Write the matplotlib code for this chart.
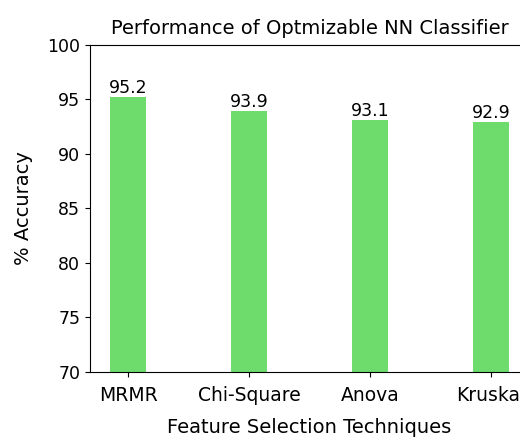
import matplotlib.pyplot as plt

techniques = ["MRMR", "Chi-Square", "Anova", "Kruskal"]
accuracy = [95.2, 93.9, 93.1, 92.9]

fig = plt.figure(figsize=(5.2, 4.37), dpi=100)
# original figure was wider; the right side is cut off
ax = fig.add_axes([0.173, 0.149, 0.844, 0.748])

bars = ax.bar(techniques, accuracy, width=0.3, color="#6ddc6d")
ax.bar_label(bars, labels=[f"{v}" for v in accuracy], fontsize=12.5)

ax.set_ylim(70, 100)
ax.set_title("Performance of Optmizable NN Classifier", fontsize=14, pad=8)
ax.set_xlabel("Feature Selection Techniques", fontsize=14, labelpad=9)
ax.set_ylabel("% Accuracy", fontsize=14, labelpad=10)
ax.tick_params(axis="y", labelsize=12.5)
ax.tick_params(axis="x", labelsize=13.5, pad=7)

fig.savefig("out.png", dpi=100)
